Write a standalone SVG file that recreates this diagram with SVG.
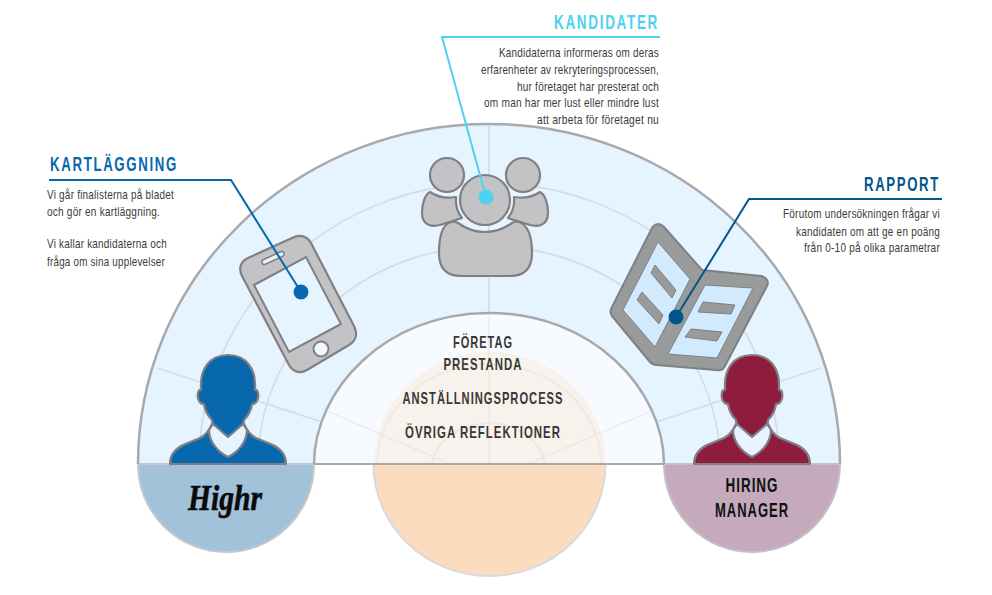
<svg xmlns="http://www.w3.org/2000/svg" xmlns:xlink="http://www.w3.org/1999/xlink" width="992" height="595" viewBox="0 0 992 595">
<style>
.h{font:700 20px "Liberation Sans",Arial,sans-serif;letter-spacing:2.5px}
.b{font:400 13px "Liberation Sans",Arial,sans-serif;fill:#3d3a38;letter-spacing:.3px}
.c{font:700 17px "Liberation Sans",Arial,sans-serif;fill:#3a3836;letter-spacing:1.5px}
.m{font:700 20.500px "Liberation Sans",Arial,sans-serif;fill:#111;letter-spacing:1.5px}
.g{fill:none;stroke:#d2dee6;stroke-width:1.800}
.gi{fill:none;stroke:#e8eef2;stroke-width:1.800}
.p{stroke:#807f83;stroke-width:2.200;stroke-linejoin:round}
.s{fill:#c3c3c5}
</style>
<defs>
<g id="person">
<path d="M-58 0C-58 -8 -53 -15 -45 -19L-28 -26C-22 -29 -19 -33 -16 -40L0 -27L16 -40C19 -33 22 -29 28 -26L45 -19C53 -15 58 -8 58 0Z" class="p"/>
<path d="M0 -109C-20 -109 -27 -93 -27 -80L-27 -74C-31 -75 -31 -66 -29 -63C-28 -61 -26 -60 -24 -60C-23 -53 -20 -48 -16 -44L-15 -37L0 -27L15 -37L16 -44C20 -48 23 -53 24 -60C26 -60 28 -61 29 -63C31 -66 31 -75 27 -74L27 -80C27 -93 20 -109 0 -109Z" class="p"/>
<path d="M-19 -34C-19 -22 -10 -12 0 -7C10 -12 19 -22 19 -34L15 -40L0 -27L-15 -40Z" fill="#e5f4fe" class="p"/>
</g>
</defs>
<g id="background">
<path d="M138 464A351 340 0 0 1 840 464Z" fill="#e5f4fe"/>
<g id="grid">
<path class="g" d="M489 124V464M157 368L450 464M821 368L528 464"/>
<path class="g" d="M199 464A290 281 0 0 1 779 464"/>
<path class="g" d="M258 464A231 218 0 0 1 720 464"/>
</g>
<path d="M314 464C314 390 385 313 489 313C593 313 664 390 664 464Z" fill="#f7fbff"/>
<path class="gi" d="M489 313V464M322 409L450 464M656 409L528 464"/>
<path class="gi" d="M377 464A112 100 0 0 1 601 464"/>
<path class="gi" d="M432 464A57 47 0 0 1 545 464"/>
<ellipse cx="489.500" cy="464" rx="116" ry="112" fill="#fcdcbf" opacity=".28"/>
<path d="M373.500 464A116 112 0 0 0 605.500 464Z" fill="#fcdcbf" stroke="#d8d9dc" stroke-width="2"/>
<path d="M138 464A88 88 0 0 0 314 464Z" fill="#a1c2d9" stroke="#c4c8cc" stroke-width="2"/>
<path d="M664 464A88 88 0 0 0 840 464Z" fill="#c5aabd" stroke="#c4c0c6" stroke-width="2"/>
<path d="M138 464A351 340 0 0 1 840 464" fill="none" stroke="#a7a9ac" stroke-width="2.500"/>
<path d="M314 464C314 390 385 313 489 313C593 313 664 390 664 464" fill="none" stroke="#a7a9ac" stroke-width="2.500"/>
<path d="M314 464H664" fill="none" stroke="#a7a9ac" stroke-width="2"/>
</g>
<g id="node-highr">
<use xlink:href="#person" href="#person" x="228" y="464" fill="#0768ad"/>
<text x="225" y="510" font-family="'Liberation Serif',serif" font-size="35" font-weight="700" font-style="italic" text-anchor="middle" textLength="74" lengthAdjust="spacingAndGlyphs" fill="#0a0a0a" stroke="#0a0a0a" stroke-width=".6">Highr</text>
</g>
<g id="node-hiring-manager">
<use xlink:href="#person" href="#person" x="752" y="464" fill="#8e1c3c"/>
<text class="m" x="752" y="492" text-anchor="middle" textLength="53" lengthAdjust="spacingAndGlyphs">HIRING</text>
<text class="m" x="752" y="517" text-anchor="middle" textLength="74" lengthAdjust="spacingAndGlyphs">MANAGER</text>
</g>
<g id="node-center">
<text class="c" x="483" y="348" text-anchor="middle" textLength="60" lengthAdjust="spacingAndGlyphs">FÖRETAG</text>
<text class="c" x="483" y="370" text-anchor="middle" textLength="79" lengthAdjust="spacingAndGlyphs">PRESTANDA</text>
<text class="c" x="483" y="404" text-anchor="middle" textLength="161" lengthAdjust="spacingAndGlyphs">ANSTÄLLNINGSPROCESS</text>
<text class="c" x="483" y="438" text-anchor="middle" textLength="156" lengthAdjust="spacingAndGlyphs">ÖVRIGA REFLEKTIONER</text>
</g>
<g id="node-phone">
<path d="M248 258L292 238C300 234 307 236 311 243L354 326C358 334 356 341 349 345L307 370C300 374 293 372 289 365L242 276C238 268 241 261 248 258Z" class="s p"/>
<path d="M254 285L306 257L341 324L289 352Z" fill="#e5f4fe" stroke="#807f83" stroke-width="2"/>
<rect x="-12" y="-2.500" width="24" height="5" rx="2.500" transform="translate(273 258) rotate(-25)" fill="#e5f4fe" stroke="#807f83" stroke-width="1.500"/>
<circle cx="321" cy="349" r="7.500" fill="#f2f8fc" stroke="#807f83" stroke-width="2"/>
</g>
<g id="node-people">
<circle cx="447" cy="175" r="17" class="s p"/>
<circle cx="523" cy="175" r="17" class="s p"/>
<path d="M430 192C436 196 445 199 456 197A29 29 0 0 0 462 218L440 225C436 226 432 226 429 225C424 223 422 219 422 213C422 204 425 194 430 192Z" class="s p"/>
<path d="M540 192C534 196 525 199 514 197A29 29 0 0 1 508 218L530 225C534 226 538 226 541 225C546 223 548 219 548 213C548 204 545 194 540 192Z" class="s p"/>
<circle cx="485" cy="200" r="25" class="s p"/>
<path d="M447 224C451 221 455 221 458 223C465 228 474 232 485 232C496 232 505 228 512 223C515 221 519 221 523 224C529 229 532 240 532 253C532 268 525 276 510 276H461C446 276 439 268 439 253C439 240 441 229 447 224Z" class="s p"/>
</g>
<g id="node-report">
<path d="M652 228C655 223 660 223 664 227L702 270L761 276C767 277 769 282 767 286L725 366C723 370 720 371 716 370L657 365C654 365 652 364 650 362L612 316C610 313 610 310 612 307Z" fill="#999b9b" stroke="#807f83" stroke-width="2" stroke-linejoin="round"/>
<path d="M658 242L690 279L655 347L623 310Z" fill="#d2eafd" stroke="#807f83" stroke-width="1"/>
<path d="M705 285L753 288L717 358L668 354Z" fill="#d2eafd" stroke="#807f83" stroke-width="1"/>
<path d="M655 265L676 290L672 298L651 273ZM642 292L663 315L659 324L637 300ZM703 302L735 305L731 314L698 312ZM691 329L722 332L717 341L685 337Z" fill="#999b9b" stroke="#807f83" stroke-width="1"/>
</g>
<g id="connectors" fill="none" stroke-width="2">
<path d="M49 180H231L301 292" stroke="#0768ad"/>
<circle cx="301" cy="292" r="7.500" fill="#0768ad" stroke="none"/>
<path d="M660 37H442L486 197" stroke="#4ed2f0"/>
<circle cx="486" cy="197" r="7.500" fill="#4ed2f0" stroke="none"/>
<path d="M942 199H749L676 317" stroke="#03568b"/>
<circle cx="676" cy="317" r="7.500" fill="#03568b" stroke="none"/>
</g>
<g id="label-kandidater">
<text class="h" x="659" y="29" text-anchor="end" textLength="105" lengthAdjust="spacingAndGlyphs" fill="#4ed2f0">KANDIDATER</text>
<g class="b" text-anchor="end">
<text x="659" y="57" textLength="160" lengthAdjust="spacingAndGlyphs">Kandidaterna informeras om deras</text>
<text x="659" y="74" textLength="178" lengthAdjust="spacingAndGlyphs">erfarenheter av rekryteringsprocessen,</text>
<text x="659" y="91" textLength="142" lengthAdjust="spacingAndGlyphs">hur företaget har presterat och</text>
<text x="659" y="107" textLength="175" lengthAdjust="spacingAndGlyphs">om man har mer lust eller mindre lust</text>
<text x="659" y="124" textLength="122" lengthAdjust="spacingAndGlyphs">att arbeta för företaget nu</text>
</g>
</g>
<g id="label-kartlaggning">
<text class="h" x="50" y="171" textLength="128" lengthAdjust="spacingAndGlyphs" fill="#0768ad">KARTLÄGGNING</text>
<g class="b">
<text x="47" y="199" textLength="127" lengthAdjust="spacingAndGlyphs">Vi går finalisterna på bladet</text>
<text x="47" y="216" textLength="113" lengthAdjust="spacingAndGlyphs">och gör en kartläggning.</text>
<text x="47" y="248" textLength="120" lengthAdjust="spacingAndGlyphs">Vi kallar kandidaterna och</text>
<text x="47" y="266" textLength="118" lengthAdjust="spacingAndGlyphs">fråga om sina upplevelser</text>
</g>
</g>
<g id="label-rapport">
<text class="h" x="940" y="191" text-anchor="end" textLength="76" lengthAdjust="spacingAndGlyphs" fill="#03568b">RAPPORT</text>
<g class="b" text-anchor="end">
<text x="940" y="218" textLength="157" lengthAdjust="spacingAndGlyphs">Förutom undersökningen frågar vi</text>
<text x="940" y="236" textLength="144" lengthAdjust="spacingAndGlyphs">kandidaten om att ge en poäng</text>
<text x="940" y="252" textLength="136" lengthAdjust="spacingAndGlyphs">från 0-10 på olika parametrar</text>
</g>
</g>
</svg>
